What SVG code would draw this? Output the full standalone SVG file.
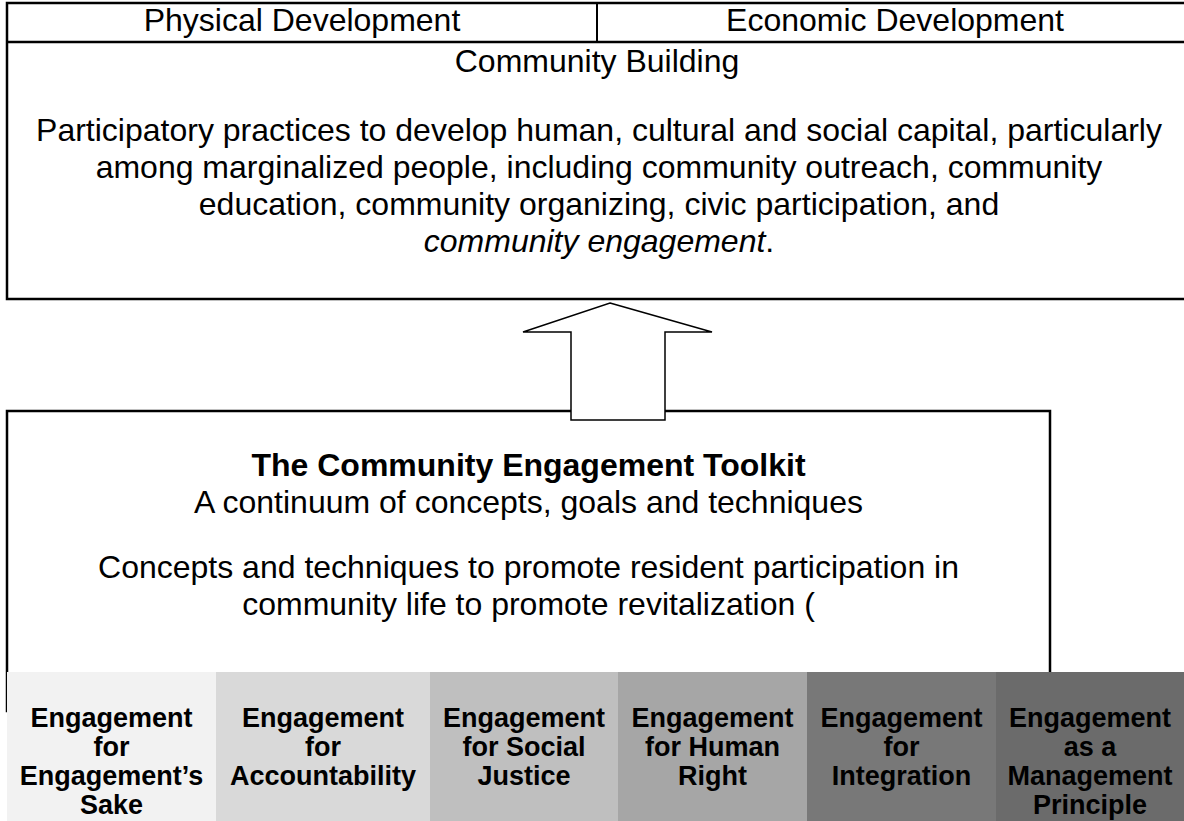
<svg xmlns="http://www.w3.org/2000/svg" width="1184" height="821" viewBox="0 0 1184 821">
<style>
.t{font-family:"Liberation Sans",Arial,sans-serif;font-size:32px;fill:#000;text-anchor:middle}
.b{font-weight:bold}
.bt{font-family:"Liberation Sans",Arial,sans-serif;font-size:27px;font-weight:bold;fill:#000;text-anchor:middle}
.box{fill:#fff;stroke:#000;stroke-width:2.5}
</style>
<rect width="1184" height="821" fill="#fff"/>
<g id="top-box">
<rect class="box" x="7" y="3" width="1190" height="296"/>
<line x1="7" y1="42" x2="1184" y2="42" stroke="#000" stroke-width="2.5"/>
<line x1="597" y1="3" x2="597" y2="42" stroke="#000" stroke-width="2"/>
<text class="t" x="302" y="31">Physical Development</text>
<text class="t" x="895" y="31">Economic Development</text>
<text class="t" x="597" y="72">Community Building</text>
<text class="t" x="599" y="141">Participatory practices to develop human, cultural and social capital, particularly</text>
<text class="t" x="599" y="178">among marginalized people, including community outreach, community</text>
<text class="t" x="599" y="215">education, community organizing, civic participation, and</text>
<text class="t" x="599" y="252"><tspan font-style="italic">community engagement</tspan>.</text>
</g>
<g id="toolkit-box">
<rect class="box" x="7" y="411" width="1043" height="300"/>
<text class="t b" x="528.5" y="476">The Community Engagement Toolkit</text>
<text class="t" x="528.5" y="513">A continuum of concepts, goals and techniques</text>
<text class="t" x="528.5" y="578">Concepts and techniques to promote resident participation in</text>
<text class="t" x="528.5" y="615">community life to promote revitalization (</text>
</g>
<g id="connectors">
<polygon points="610,303 712,332 665,332 665,420 571,420 571,332 523,332" fill="#fff" stroke="#000" stroke-width="1.5"/>
</g>
<g id="band1">
<rect x="7" y="672" width="209" height="149" fill="#f2f2f2"/>
<text class="bt" x="111.5" y="727">Engagement</text>
<text class="bt" x="111.5" y="756">for</text>
<text class="bt" x="111.5" y="785">Engagement’s</text>
<text class="bt" x="111.5" y="814">Sake</text>
</g>
<g id="band2">
<rect x="216" y="672" width="214" height="149" fill="#d9d9d9"/>
<text class="bt" x="323" y="727">Engagement</text>
<text class="bt" x="323" y="756">for</text>
<text class="bt" x="323" y="785">Accountability</text>
</g>
<g id="band3">
<rect x="430" y="672" width="188" height="149" fill="#bfbfbf"/>
<text class="bt" x="524" y="727">Engagement</text>
<text class="bt" x="524" y="756">for Social</text>
<text class="bt" x="524" y="785">Justice</text>
</g>
<g id="band4">
<rect x="618" y="672" width="189" height="149" fill="#a6a6a6"/>
<text class="bt" x="712.5" y="727">Engagement</text>
<text class="bt" x="712.5" y="756">for Human</text>
<text class="bt" x="712.5" y="785">Right</text>
</g>
<g id="band5">
<rect x="807" y="672" width="189" height="149" fill="#787878"/>
<text class="bt" x="901.5" y="727">Engagement</text>
<text class="bt" x="901.5" y="756">for</text>
<text class="bt" x="901.5" y="785">Integration</text>
</g>
<g id="band6">
<rect x="996" y="672" width="188" height="149" fill="#6b6b6b"/>
<text class="bt" x="1090" y="727">Engagement</text>
<text class="bt" x="1090" y="756">as a</text>
<text class="bt" x="1090" y="785">Management</text>
<text class="bt" x="1090" y="814">Principle</text>
</g>
</svg>
